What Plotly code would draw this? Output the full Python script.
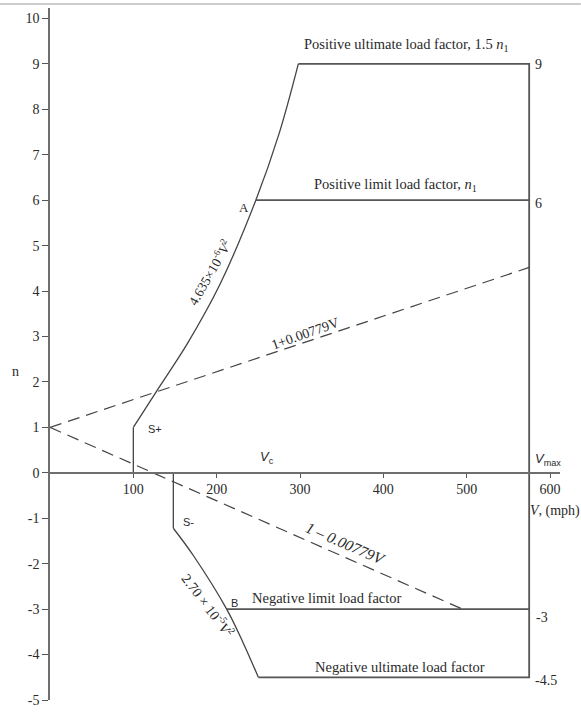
import plotly.graph_objects as go

# ---- data (V in mph, n = load factor) ----
y_ticks = [-5, -4, -3, -2, -1, 0, 1, 2, 3, 4, 5, 6, 7, 8, 9, 10]
x_ticks = [100, 200, 300, 400, 500, 600]

# positive stall curve (S+ -> A -> ultimate)
pos_stall_V = [100, 128, 165, 204, 247, 275, 298]
pos_stall_n = [1.0, 1.8, 2.85, 4.15, 6.0, 7.47, 9.0]
# vertical segment at S+
spos_V = [100, 100]
spos_n = [0, 1]

# negative stall curve (S- -> B -> negative ultimate)
neg_stall_V = [148, 172, 212, 232, 250]
neg_stall_n = [-1.22, -1.82, -3.0, -3.75, -4.5]
sneg_V = [148, 148]
sneg_n = [0, -1.22]

V_max = 575
pos_ult_n, pos_lim_n = 9, 6
neg_lim_n, neg_ult_n = -3, -4.5
V_A, V_B = 247, 212
V_top, V_negult = 298, 250

# gust lines
gust_pos_V = [0, 575]
gust_pos_n = [1, 4.52]
gust_neg_V = [0, 495]
gust_neg_n = [1, -3]

Y_MIN, Y_MAX = -5, 10.23
X_MIN, X_MAX = 0, 612

SERIF = "Liberation Serif, Times New Roman, serif"
SANS = "Liberation Sans, Arial, sans-serif"
TXT = "#2a2a2a"
LINE = "#444444"

fig = go.Figure()

def add_line(x, y, width=1.3, color=LINE, dash=None, shape="linear"):
    fig.add_trace(go.Scatter(x=x, y=y, mode="lines",
                             line=dict(color=color, width=width, dash=dash, shape=shape),
                             hoverinfo="skip", showlegend=False))

# stall curves
add_line(spos_V, spos_n, 1.3)
add_line(pos_stall_V, pos_stall_n, 1.3, shape="spline")
add_line(sneg_V, sneg_n, 1.3)
add_line(neg_stall_V, neg_stall_n, 1.3, shape="spline")

# envelope: ultimate lines + Vmax
add_line([V_top, V_max, V_max, V_negult], [pos_ult_n, pos_ult_n, neg_ult_n, neg_ult_n], 1.8, "#555555")
add_line([V_A, V_max], [pos_lim_n, pos_lim_n], 1.8, "#555555")
add_line([V_B, V_max], [neg_lim_n, neg_lim_n], 1.8, "#555555")

# gust lines
add_line(gust_pos_V, gust_pos_n, 1.2, "#444444", dash="12px,7px")
add_line(gust_neg_V, gust_neg_n, 1.2, "#444444", dash="12px,7px")

def ann(text, x, y, size=14, family=SERIF, angle=0, xanchor="center", yanchor="middle",
        xref="x", yref="y"):
    fig.add_annotation(text=text, x=x, y=y, xref=xref, yref=yref, showarrow=False,
                       textangle=angle, xanchor=xanchor, yanchor=yanchor,
                       font=dict(family=family, size=size, color=TXT))

ann("Positive ultimate load factor, 1.5 <i>n</i><sub>1</sub>", 428, 9.42, size=14.5)
ann("Positive limit load factor, <i>n</i><sub>1</sub>", 414, 6.33, size=14.5)
ann("A", 233, 5.84, size=13)
ann("4.635×10<sup>-6</sup><i>V</i><sup>2</sup>", 192, 4.4, size=13.5, angle=-60)
ann("1+0.00779V", 307, 3.06, size=14, angle=-19.5)
ann("S+", 126, 0.96, size=11, family=SANS)
ann("<i>V</i><sub>c</sub>", 260, 0.33, size=13, family=SANS)
ann("<i>V</i><sub>max</sub>", 579.6, 0.29, size=13, family=SANS, xanchor="left")
ann("<i>V</i>, (mph)", 573.6, -0.84, size=14, xanchor="left")
ann("S-", 165.6, -1.08, size=11, family=SANS)
ann("<i>1 – 0.00779V</i>", 355, -1.56, size=15.5, angle=23.5)
ann("2.70 × 10<sup>-5</sup><i>V</i><sup>2</sup>", 190, -2.9, size=14, angle=53)
ann("B", 221, -2.86, size=11, family=SANS)
ann("Negative limit load factor", 332, -2.76, size=14.5)
ann("Negative ultimate load factor", 420, -4.28, size=14.5)
ann("9", 579.6, 8.99, xanchor="left")
ann("6", 579.6, 5.93, xanchor="left")
ann("-3", 580.5, -3.18, xanchor="left")
ann("-4.5", 579.6, -4.57, xanchor="left")
# axis label "n" (left of the axis, in paper coordinates)
ann("n", -35 / 510, 1 - (376 - 8) / 700, size=14, xref="paper", yref="paper")

# light border line at top of the picture
fig.add_shape(type="rect", xref="paper", yref="paper", x0=-0.098, x1=1.041,
              y0=1 + 3 / 700, y1=1 + 5 / 700, layer="above",
              fillcolor="#cccccc", line=dict(width=0))

fig.update_layout(
    width=581, height=716,
    margin=dict(l=50, r=21, t=8, b=8),
    paper_bgcolor="white", plot_bgcolor="white",
    showlegend=False,
    xaxis=dict(range=[X_MIN, X_MAX], anchor="free",
               position=(0 - Y_MIN) / (Y_MAX - Y_MIN),
               showline=True, linecolor="#6e6e6e", linewidth=1.6,
               ticks="outside", ticklen=4, tickwidth=1.2, tickcolor="#555",
               tickvals=x_ticks, ticktext=[str(v) for v in x_ticks],
               tickfont=dict(family=SERIF, size=14, color=TXT),
               showgrid=False, zeroline=False, fixedrange=True),
    yaxis=dict(range=[Y_MIN, Y_MAX],
               showline=True, linecolor="#6e6e6e", linewidth=1.6,
               ticks="outside", ticklen=6, tickwidth=1.2, tickcolor="#555",
               tickvals=y_ticks, ticktext=[str(v) for v in y_ticks],
               tickfont=dict(family=SERIF, size=14, color=TXT),
               showgrid=False, zeroline=False, fixedrange=True),
)

fig.write_html("out.html", config={"displayModeBar": False},
               post_script="document.body.style.margin='0';")
